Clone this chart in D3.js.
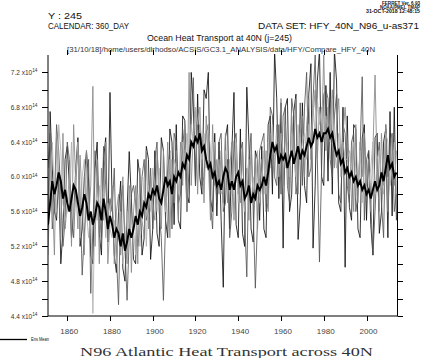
<!DOCTYPE html>
<html><head><meta charset="utf-8">
<script src="https://cdn.jsdelivr.net/npm/d3@7"></script>
<style>html,body{margin:0;padding:0;background:#fff;}svg{display:block;}</style>
</head><body>
<svg id="c" width="421" height="358"></svg>
<script>
const startYear = 1851;
const yTicks = [4.4, 4.8, 5.2, 5.6, 6.0, 6.4, 6.8, 7.2];
const xTicks = [1860, 1880, 1900, 1920, 1940, 1960, 1980, 2000];

const member1 = [
5.20,6.75,6.10,5.60,5.50,6.00,5.00,5.40,6.20,6.35,
5.90,5.30,5.55,6.10,6.45,5.20,5.40,6.00,6.30,5.95,
5.10,5.00,6.10,6.40,5.35,5.10,6.20,6.45,5.25,6.97,
5.70,5.10,4.90,5.60,5.95,4.95,4.80,5.60,6.29,5.75,
5.05,5.00,6.20,6.00,5.10,5.30,6.35,6.20,5.05,5.40,
6.30,5.35,5.20,6.45,6.30,5.50,5.30,6.55,6.40,5.45,
6.60,5.50,5.40,6.70,6.65,5.80,5.70,7.20,6.80,5.90,
6.95,6.00,5.80,7.00,6.90,7.20,5.75,5.60,6.50,5.55,
6.40,5.50,4.73,6.45,6.60,5.40,6.30,6.97,5.45,5.30,
6.55,5.35,5.20,7.03,6.40,5.40,5.25,6.30,6.20,5.50,
6.35,5.40,5.30,6.60,6.70,5.80,7.45,6.90,5.75,6.85,
5.18,6.80,6.90,5.60,5.80,6.75,6.95,5.28,5.70,6.85,
5.90,5.70,6.95,7.30,5.18,5.90,7.10,7.45,6.00,5.90,
7.05,5.95,7.20,5.80,7.45,7.10,5.70,5.60,6.80,4.96,
6.70,5.65,5.50,6.60,6.55,5.40,5.30,6.45,6.60,5.50,
6.30,5.45,5.10,6.45,6.50,5.35,5.60,6.40,6.55,5.30,
6.75,5.55,6.80,5.50];
const member2 = [
6.10,6.50,5.40,5.70,6.60,6.30,5.80,5.20,5.50,6.40,
6.20,5.60,5.30,5.90,6.40,5.80,4.87,5.35,5.70,6.20,
4.66,5.40,6.30,6.00,5.60,5.30,6.35,5.90,5.50,5.75,
5.60,6.10,5.10,4.53,5.70,5.90,5.20,4.58,5.30,5.80,
5.90,5.70,5.20,5.40,6.00,6.20,5.50,5.60,6.10,5.40,
6.20,6.40,5.60,5.30,4.58,5.50,6.10,6.30,5.40,6.50,
6.40,5.70,5.80,6.55,6.30,5.60,6.10,6.60,7.14,5.90,
6.70,6.80,5.90,6.00,6.50,6.60,5.70,5.40,6.30,5.70,
6.40,6.50,5.60,5.70,6.20,5.30,5.60,6.40,6.50,5.80,
6.30,6.40,5.50,4.85,6.20,6.50,5.60,4.72,5.50,6.30,
6.40,6.50,5.60,5.70,6.80,6.70,6.00,5.90,6.60,5.80,
6.70,6.80,5.90,5.70,6.90,6.70,5.80,6.00,6.85,5.90,
6.80,7.20,6.00,6.10,6.90,7.40,6.20,5.02,6.10,6.95,
7.00,6.90,6.20,6.00,6.70,6.95,5.80,5.70,6.60,6.50,
5.90,5.70,6.40,6.50,5.60,5.80,6.30,7.15,5.50,6.20,
6.30,5.70,5.10,5.60,6.20,6.40,5.70,5.30,6.60,6.00,
6.40,6.50,5.60,5.80];
const member3 = [
5.60,6.20,5.80,5.10,6.45,6.00,5.30,6.50,5.40,5.70,
6.00,5.20,6.60,5.90,5.40,6.25,5.70,5.10,6.30,5.50,
5.90,7.04,5.20,6.20,5.00,6.10,5.50,6.40,5.00,5.50,
5.90,5.00,5.60,5.80,5.10,6.00,5.30,5.00,5.90,4.90,
5.60,5.90,5.00,6.10,5.50,5.30,6.30,5.40,6.00,5.70,
5.50,6.30,5.90,5.40,6.30,5.60,6.40,5.30,6.20,5.70,
6.30,5.50,6.40,5.90,6.60,5.60,7.20,5.90,6.50,6.80,
5.80,6.60,6.40,5.70,6.70,6.20,5.50,6.60,5.90,6.20,
5.80,6.30,5.70,6.50,5.70,6.10,6.40,5.50,6.20,5.90,
5.70,6.30,5.60,6.10,5.50,6.40,5.70,6.20,5.40,6.00,
6.20,5.80,6.30,5.60,6.50,6.20,6.00,6.60,6.30,6.90,
5.90,6.60,6.20,5.80,6.70,6.30,6.90,5.80,6.50,6.70,
6.00,6.60,6.90,6.20,6.70,7.00,6.20,6.80,6.50,7.40,
6.30,6.80,6.50,7.00,6.10,6.60,6.90,6.20,6.50,6.80,
6.40,5.80,6.30,5.60,6.60,5.70,6.40,6.00,6.50,5.90,
6.20,5.60,6.30,7.17,6.00,5.60,6.50,5.90,6.60,5.60,
6.20,6.50,5.90,6.30];
const member4 = [
5.10,5.90,6.40,5.80,5.60,6.60,6.30,5.70,5.50,5.60,
5.80,6.40,5.40,6.00,6.40,5.30,6.00,6.20,5.60,5.30,
5.60,4.43,5.70,5.50,5.90,5.50,5.80,5.30,5.70,5.40,
5.30,5.50,5.00,5.40,5.60,5.00,5.20,5.60,5.20,5.50,
5.40,5.10,5.80,5.20,5.60,6.00,5.20,5.90,5.60,6.10,
5.90,5.60,6.10,5.70,6.00,5.60,5.90,6.20,5.80,6.20,
6.10,5.80,6.20,6.40,6.10,6.50,6.20,6.60,6.40,6.80,
6.60,6.80,6.20,6.50,6.10,6.60,6.30,6.00,6.40,5.90,
6.20,5.80,5.90,6.30,5.90,6.20,5.80,6.10,6.40,5.70,
6.10,5.90,5.60,6.00,6.20,5.70,6.00,5.80,6.30,5.70,
5.90,6.30,5.80,6.40,6.10,6.60,6.20,6.40,6.00,6.50,
6.30,6.10,6.40,6.00,6.50,6.20,6.00,6.60,6.20,6.40,
6.50,6.20,6.60,6.40,6.80,6.50,6.90,6.60,6.80,6.40,
6.70,6.50,6.40,6.90,6.30,6.10,6.50,6.00,6.40,6.20,
6.20,6.30,6.00,6.40,6.10,5.90,6.30,5.70,6.20,5.80,
5.90,6.10,6.40,5.80,6.20,6.30,6.00,5.80,6.50,6.40,
5.90,6.10,6.40,5.80];
const ensMean = [
5.45,5.70,5.95,5.80,5.90,6.05,5.95,5.75,5.85,5.70,
5.60,5.75,5.90,5.85,5.70,5.55,5.65,5.80,5.70,5.50,
5.60,5.45,5.55,5.70,5.65,5.50,5.75,5.60,5.40,5.55,
5.45,5.30,5.40,5.35,5.20,5.35,5.15,5.25,5.40,5.30,
5.40,5.55,5.45,5.60,5.55,5.70,5.65,5.80,5.75,5.85,
5.80,5.90,5.75,5.70,5.85,6.00,5.90,5.95,5.80,6.00,
5.95,6.05,6.00,6.15,6.10,6.25,6.20,6.40,6.35,6.45,
6.40,6.50,6.30,6.35,6.20,6.10,6.15,6.00,6.05,5.90,
5.95,5.85,6.00,6.10,6.05,5.85,5.95,5.85,6.00,6.05,
5.90,5.95,5.75,5.80,5.90,5.70,5.80,5.75,5.90,5.85,
5.90,6.00,5.90,6.05,6.25,6.40,6.30,6.35,6.15,6.25,
6.20,6.25,6.10,6.20,6.30,6.15,6.25,6.35,6.20,6.30,
6.25,6.35,6.45,6.35,6.40,6.55,6.45,6.50,6.40,6.50,
6.50,6.55,6.45,6.50,6.35,6.25,6.30,6.15,6.20,6.05,
6.10,6.00,6.05,5.95,6.00,5.90,5.95,5.85,5.90,5.80,
5.85,5.75,5.85,5.95,5.85,5.90,6.05,5.95,6.10,6.25,
6.10,6.15,6.00,6.05];

const members = [member1, member2, member3, member4];
const memberColors = ["#111", "#555", "#888", "#b0b0b0"];

const svg = d3.select("#c");
const L = 48, R = 397.5, T = 55, B = 316;
const x = d3.scaleLinear().domain([1851, 2014.5]).range([L, R]);
const y = d3.scaleLinear().domain([4.4, 7.4]).range([B, T]);

const sans = "'Liberation Sans', Arial, sans-serif";

function txt(s, xx, yy, size, anchor, len, extra) {
  const t = svg.append("text").attr("x", xx).attr("y", yy)
    .attr("font-family", (extra && extra.family) || sans)
    .attr("font-size", size).attr("text-anchor", anchor || "start")
    .attr("fill", (extra && extra.fill) || "#111")
    .text(s);
  if (extra && extra.weight) t.attr("font-weight", extra.weight);
  if (len) t.attr("textLength", len).attr("lengthAdjust", "spacingAndGlyphs");
  return t;
}

// header texts
txt("FERRET Ver. 6.93", 420, 4.5, 4.5, "end", 38, {weight: "bold"});
txt("NOAA/PMEL TMAP", 420, 8.5, 4.5, "end", 40, {weight: "bold"});
txt("31-OCT-2018 12:48:15", 420, 12.5, 4.5, "end", 54, {weight: "bold"});
txt("Y : 245", 48, 19, 8.5, "start", 34);
txt("CALENDAR: 360_DAY", 48, 28.5, 8.5, "start", 81);
txt("DATA SET: HFY_40N_N96_u-as371", 419, 28.5, 8.5, "end", 161);
txt("Ocean Heat Transport at 40N (j=245)", 219.5, 41, 8.5, "middle", 145);
txt("[31/10/18]/home/users/dlrhodso/ACSIS/GC3.1_ANALYSIS/data/HFY/Compare_HFY_40N", 221, 51.5, 7, "middle", 308, {fill: "#333"});

// clip
svg.append("clipPath").attr("id", "clip").append("rect")
  .attr("x", L).attr("y", T - 1).attr("width", R - L).attr("height", B - T + 1);

const line = d3.line().x((d, i) => x(startYear + i)).y(d => y(d));
const g = svg.append("g").attr("clip-path", "url(#clip)");
members.forEach((m, k) => {
  g.append("path").datum(m).attr("d", line)
    .attr("fill", "none").attr("stroke", memberColors[k]).attr("stroke-width", 0.85);
});
g.append("path").datum(ensMean).attr("d", line)
  .attr("fill", "none").attr("stroke", "#000").attr("stroke-width", 2);

// axes
const yMinor = d3.range(4.4, 7.41, 0.2).map(v => +v.toFixed(1));
const axisStroke = "#000";
svg.append("line").attr("x1", L).attr("x2", R).attr("y1", B).attr("y2", B).attr("stroke", axisStroke);
svg.append("line").attr("x1", L).attr("x2", L).attr("y1", T).attr("y2", B).attr("stroke", axisStroke);
svg.append("line").attr("x1", R).attr("x2", R).attr("y1", T).attr("y2", B).attr("stroke", axisStroke);

const yg = svg.append("g");
yMinor.filter(v => v <= 7.3).forEach(v => {
  const yy = Math.round(y(v)) + 0.5;
  yg.append("line").attr("x1", L - 6).attr("x2", L).attr("y1", yy).attr("y2", yy).attr("stroke", axisStroke);
  yg.append("line").attr("x1", R).attr("x2", R + 5.5).attr("y1", yy).attr("y2", yy).attr("stroke", axisStroke);
});
yTicks.forEach(v => {
  const t = svg.append("text").attr("x", 37.5).attr("y", y(v) + 2.5)
    .attr("font-family", sans).attr("font-size", 6.5).attr("text-anchor", "end").attr("fill", "#333");
  t.append("tspan").text(v.toFixed(1) + " x10");
  t.append("tspan").attr("dy", -2.5).attr("font-size", 4.8).text("14");
});

xTicks.forEach(v => {
  const xx = Math.round(x(v)) + 0.5;
  svg.append("line").attr("x1", xx).attr("x2", xx).attr("y1", B).attr("y2", B + 5).attr("stroke", axisStroke);
  svg.append("line").attr("x1", xx).attr("x2", xx).attr("y1", T).attr("y2", T - 5).attr("stroke", axisStroke);
  txt(String(v), x(v) + 2, 334, 8, "middle", null, {fill: "#444"});
});

// legend
svg.append("line").attr("x1", 0).attr("x2", 27).attr("y1", 339.5).attr("y2", 339.5)
  .attr("stroke", "#000").attr("stroke-width", 1.3);
txt("Ens Mean", 31, 341, 4.5, "start", 18);

// bottom title
txt("N96 Atlantic Heat Transport across 40N", 226.5, 356, 13.5, "middle", 293,
    {family: "'Liberation Serif', 'DejaVu Serif', serif", fill: "#333"});
</script>
</body></html>
